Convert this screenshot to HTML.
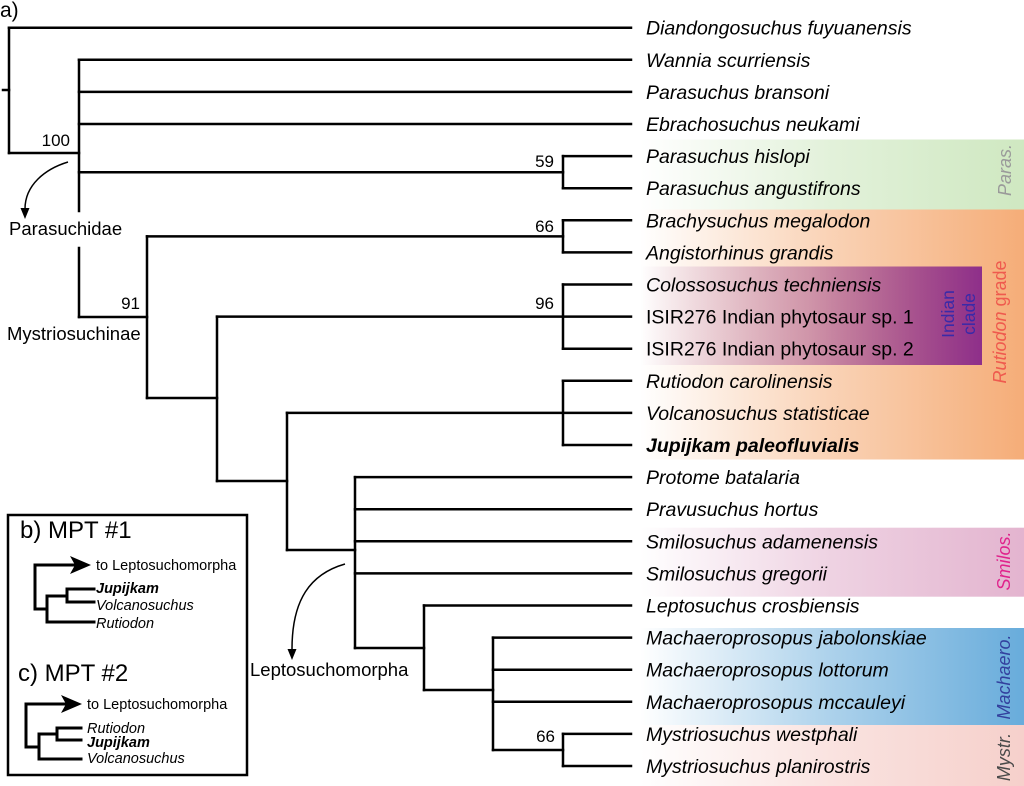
<!DOCTYPE html>
<html>
<head>
<meta charset="utf-8">
<style>
html,body{margin:0;padding:0;background:#fff;}
svg{display:block;}
text{font-family:"Liberation Sans",Arial,sans-serif;}
.tx{font-size:19.5px;font-style:italic;fill:#000;}
.tn{font-size:19.5px;fill:#000;}
.sup{font-size:17px;fill:#000;}
.cl{font-size:18.5px;fill:#000;}
.in{font-size:14.5px;fill:#000;}
</style>
</head>
<body>
<svg width="1024" height="786" viewBox="0 0 1024 786" xmlns="http://www.w3.org/2000/svg">
<defs>
  <linearGradient id="gP" gradientUnits="userSpaceOnUse" x1="640" y1="0" x2="1024" y2="0">
    <stop offset="0" stop-color="#cfe8c1" stop-opacity="0"/>
    <stop offset="0.5" stop-color="#cfe8c1" stop-opacity="0.6"/>
    <stop offset="1" stop-color="#cfe8c1" stop-opacity="1"/>
  </linearGradient>
  <linearGradient id="gR" gradientUnits="userSpaceOnUse" x1="640" y1="0" x2="1024" y2="0">
    <stop offset="0" stop-color="#f5ad78" stop-opacity="0"/>
    <stop offset="0.5" stop-color="#f5ad78" stop-opacity="0.55"/>
    <stop offset="1" stop-color="#f5ad78" stop-opacity="1"/>
  </linearGradient>
  <linearGradient id="gI" gradientUnits="userSpaceOnUse" x1="640" y1="0" x2="982" y2="0">
    <stop offset="0" stop-color="#8e2f8a" stop-opacity="0"/>
    <stop offset="0.5" stop-color="#8e2f8a" stop-opacity="0.4"/>
    <stop offset="1" stop-color="#8e2f8a" stop-opacity="1"/>
  </linearGradient>
  <linearGradient id="gS" gradientUnits="userSpaceOnUse" x1="640" y1="0" x2="1024" y2="0">
    <stop offset="0" stop-color="#e3b4cf" stop-opacity="0"/>
    <stop offset="0.5" stop-color="#e3b4cf" stop-opacity="0.6"/>
    <stop offset="1" stop-color="#e3b4cf" stop-opacity="1"/>
  </linearGradient>
  <linearGradient id="gM" gradientUnits="userSpaceOnUse" x1="640" y1="0" x2="1024" y2="0">
    <stop offset="0" stop-color="#68acdb" stop-opacity="0"/>
    <stop offset="0.5" stop-color="#68acdb" stop-opacity="0.55"/>
    <stop offset="1" stop-color="#68acdb" stop-opacity="1"/>
  </linearGradient>
  <linearGradient id="gY" gradientUnits="userSpaceOnUse" x1="640" y1="0" x2="1024" y2="0">
    <stop offset="0" stop-color="#f6d0cb" stop-opacity="0"/>
    <stop offset="0.5" stop-color="#f6d0cb" stop-opacity="0.6"/>
    <stop offset="1" stop-color="#f6d0cb" stop-opacity="1"/>
  </linearGradient>
</defs>

<!-- bands -->
<rect x="636" y="139.5" width="388" height="70" fill="url(#gP)"/>
<rect x="636" y="209.5" width="388" height="250" fill="url(#gR)"/>
<rect x="640" y="266.5" width="342" height="98.5" fill="url(#gI)"/>
<rect x="636" y="527.7" width="388" height="69" fill="url(#gS)"/>
<rect x="636" y="628" width="388" height="97" fill="url(#gM)"/>
<rect x="636" y="725" width="388" height="61" fill="url(#gY)"/>

<!-- band labels -->
<text transform="translate(1011,170) rotate(-90)" text-anchor="middle" style="font-size:18px;font-style:italic;fill:#9a9a9a">Paras.</text>
<text transform="translate(1006,322) rotate(-90)" text-anchor="middle" style="font-size:18px;fill:#ef5a4e"><tspan style="font-style:italic">Rutiodon</tspan> grade</text>
<text transform="translate(954,314) rotate(-90)" text-anchor="middle" style="font-size:17.5px;fill:#3a2aa8">Indian</text>
<text transform="translate(975,314) rotate(-90)" text-anchor="middle" style="font-size:17.5px;fill:#3a2aa8">clade</text>
<text transform="translate(1010,561) rotate(-90)" text-anchor="middle" style="font-size:18px;font-style:italic;fill:#e0228c">Smilos.</text>
<text transform="translate(1010,677) rotate(-90)" text-anchor="middle" style="font-size:18px;font-style:italic;fill:#33409e">Machaero.</text>
<text transform="translate(1010,757) rotate(-90)" text-anchor="middle" style="font-size:18px;font-style:italic;fill:#4a4a4a">Mystr.</text>

<!-- tree -->
<g stroke="#000" stroke-width="2.5" stroke-linecap="square" fill="none">
  <line x1="9" y1="27.7" x2="631" y2="27.7"/>
  <line x1="79" y1="59.8" x2="631" y2="59.8"/>
  <line x1="79" y1="91.9" x2="631" y2="91.9"/>
  <line x1="79" y1="124" x2="631" y2="124"/>
  <line x1="563" y1="156.1" x2="631" y2="156.1"/>
  <line x1="563" y1="188.2" x2="631" y2="188.2"/>
  <line x1="563" y1="220.3" x2="631" y2="220.3"/>
  <line x1="563" y1="252.4" x2="631" y2="252.4"/>
  <line x1="563" y1="284.5" x2="631" y2="284.5"/>
  <line x1="217" y1="316.6" x2="631" y2="316.6"/>
  <line x1="563" y1="348.7" x2="631" y2="348.7"/>
  <line x1="563" y1="380.8" x2="631" y2="380.8"/>
  <line x1="287" y1="412.9" x2="631" y2="412.9"/>
  <line x1="563" y1="445" x2="631" y2="445"/>
  <line x1="355" y1="477.1" x2="631" y2="477.1"/>
  <line x1="355" y1="509.2" x2="631" y2="509.2"/>
  <line x1="355" y1="541.3" x2="631" y2="541.3"/>
  <line x1="355" y1="573.4" x2="631" y2="573.4"/>
  <line x1="424" y1="605.5" x2="631" y2="605.5"/>
  <line x1="493" y1="637.6" x2="631" y2="637.6"/>
  <line x1="493" y1="669.7" x2="631" y2="669.7"/>
  <line x1="493" y1="701.8" x2="631" y2="701.8"/>
  <line x1="563" y1="733.9" x2="631" y2="733.9"/>
  <line x1="563" y1="766" x2="631" y2="766"/>
  <line x1="9" y1="27.7" x2="9" y2="153"/>
  <line x1="79" y1="59.8" x2="79" y2="211"/>
  <line x1="79" y1="248" x2="79" y2="317"/>
  <line x1="563" y1="156.1" x2="563" y2="188.2"/>
  <line x1="147" y1="236.4" x2="147" y2="398"/>
  <line x1="563" y1="220.3" x2="563" y2="252.4"/>
  <line x1="217" y1="316.6" x2="217" y2="481"/>
  <line x1="563" y1="284.5" x2="563" y2="348.7"/>
  <line x1="287" y1="412.9" x2="287" y2="550"/>
  <line x1="563" y1="380.8" x2="563" y2="445"/>
  <line x1="355" y1="477.1" x2="355" y2="648"/>
  <line x1="424" y1="605.5" x2="424" y2="690"/>
  <line x1="493" y1="637.6" x2="493" y2="750"/>
  <line x1="563" y1="733.9" x2="563" y2="766"/>
  <line x1="3" y1="90" x2="9" y2="90"/>
  <line x1="9" y1="153" x2="79" y2="153"/>
  <line x1="79" y1="172.2" x2="563" y2="172.2"/>
  <line x1="79" y1="317" x2="147" y2="317"/>
  <line x1="147" y1="236.4" x2="563" y2="236.4"/>
  <line x1="147" y1="398" x2="217" y2="398"/>
  <line x1="217" y1="481" x2="287" y2="481"/>
  <line x1="287" y1="550" x2="355" y2="550"/>
  <line x1="355" y1="648" x2="424" y2="648"/>
  <line x1="424" y1="690" x2="493" y2="690"/>
  <line x1="493" y1="750" x2="563" y2="750"/>
</g>

<!-- curved arrows -->
<path d="M68,162 C45,169 25,185 25,209" stroke="#000" stroke-width="1.5" fill="none"/>
<polygon points="25,219 20.5,208 29.5,208" fill="#000"/>
<path d="M345,564 C310,574 292,600 292,649" stroke="#000" stroke-width="1.5" fill="none"/>
<polygon points="292,660 287.5,649 296.5,649" fill="#000"/>

<!-- labels -->
<text x="0" y="17" style="font-size:21px">a)</text>
<text class="sup" x="70" y="146" text-anchor="end">100</text>
<text class="sup" x="554" y="167" text-anchor="end">59</text>
<text class="sup" x="554" y="232" text-anchor="end">66</text>
<text class="sup" x="140" y="309" text-anchor="end">91</text>
<text class="sup" x="554" y="309" text-anchor="end">96</text>
<text class="sup" x="555" y="742" text-anchor="end">66</text>
<text class="cl" x="9" y="235">Parasuchidae</text>
<text class="cl" x="7" y="340">Mystriosuchinae</text>
<text class="cl" x="250" y="676">Leptosuchomorpha</text>

<!-- taxa -->
<text class="tx" x="646" y="34.7">Diandongosuchus fuyuanensis</text>
<text class="tx" x="646" y="66.8">Wannia scurriensis</text>
<text class="tx" x="646" y="98.9">Parasuchus bransoni</text>
<text class="tx" x="646" y="131">Ebrachosuchus neukami</text>
<text class="tx" x="646" y="163.1">Parasuchus hislopi</text>
<text class="tx" x="646" y="195.2">Parasuchus angustifrons</text>
<text class="tx" x="646" y="227.3">Brachysuchus megalodon</text>
<text class="tx" x="646" y="259.4">Angistorhinus grandis</text>
<text class="tx" x="646" y="291.5">Colossosuchus techniensis</text>
<text class="tn" x="646" y="323.6">ISIR276 Indian phytosaur sp. 1</text>
<text class="tn" x="646" y="355.7">ISIR276 Indian phytosaur sp. 2</text>
<text class="tx" x="646" y="387.8">Rutiodon carolinensis</text>
<text class="tx" x="646" y="419.9">Volcanosuchus statisticae</text>
<text class="tx" x="646" y="452" style="font-weight:bold">Jupijkam paleofluvialis</text>
<text class="tx" x="646" y="484.1">Protome batalaria</text>
<text class="tx" x="646" y="516.2">Pravusuchus hortus</text>
<text class="tx" x="646" y="548.3">Smilosuchus adamenensis</text>
<text class="tx" x="646" y="580.4">Smilosuchus gregorii</text>
<text class="tx" x="646" y="612.5">Leptosuchus crosbiensis</text>
<text class="tx" x="646" y="644.6">Machaeroprosopus jabolonskiae</text>
<text class="tx" x="646" y="676.7">Machaeroprosopus lottorum</text>
<text class="tx" x="646" y="708.8">Machaeroprosopus mccauleyi</text>
<text class="tx" x="646" y="740.9">Mystriosuchus westphali</text>
<text class="tx" x="646" y="773">Mystriosuchus planirostris</text>

<!-- inset -->
<rect x="8" y="515" width="239" height="260" fill="#fff" stroke="#000" stroke-width="2.5"/>
<text x="20" y="538" style="font-size:24px">b) MPT #1</text>
<g stroke="#000" stroke-width="3" stroke-linecap="square" fill="none">
  <line x1="35" y1="565" x2="74" y2="565"/>
  <line x1="35" y1="565" x2="35" y2="609"/>
  <line x1="35" y1="609" x2="47" y2="609"/>
  <line x1="47" y1="596" x2="47" y2="622"/>
  <line x1="47" y1="622" x2="94" y2="622"/>
  <line x1="47" y1="596" x2="67" y2="596"/>
  <line x1="67" y1="589" x2="67" y2="602"/>
  <line x1="67" y1="589" x2="94" y2="589"/>
  <line x1="67" y1="602" x2="94" y2="602"/>
</g>
<polygon points="91,565 70,556 75,565 70,574" fill="#000"/>
<text class="in" x="96" y="570">to Leptosuchomorpha</text>
<text class="in" x="96" y="593" style="font-style:italic;font-weight:bold">Jupijkam</text>
<text class="in" x="96" y="610" style="font-style:italic">Volcanosuchus</text>
<text class="in" x="96" y="628" style="font-style:italic">Rutiodon</text>

<text x="18" y="681" style="font-size:24px">c) MPT #2</text>
<g stroke="#000" stroke-width="3" stroke-linecap="square" fill="none">
  <line x1="26" y1="704" x2="66" y2="704"/>
  <line x1="26" y1="704" x2="26" y2="747"/>
  <line x1="26" y1="747" x2="39" y2="747"/>
  <line x1="39" y1="734" x2="39" y2="759"/>
  <line x1="39" y1="759" x2="81" y2="759"/>
  <line x1="39" y1="734" x2="57" y2="734"/>
  <line x1="57" y1="728" x2="57" y2="740"/>
  <line x1="57" y1="728" x2="81" y2="728"/>
  <line x1="57" y1="740" x2="81" y2="740"/>
</g>
<polygon points="82,704 61,695 66,704 61,713" fill="#000"/>
<text class="in" x="87" y="709">to Leptosuchomorpha</text>
<text class="in" x="87" y="733" style="font-style:italic">Rutiodon</text>
<text class="in" x="87" y="747" style="font-style:italic;font-weight:bold">Jupijkam</text>
<text class="in" x="87" y="763" style="font-style:italic">Volcanosuchus</text>
</svg>
</body>
</html>
